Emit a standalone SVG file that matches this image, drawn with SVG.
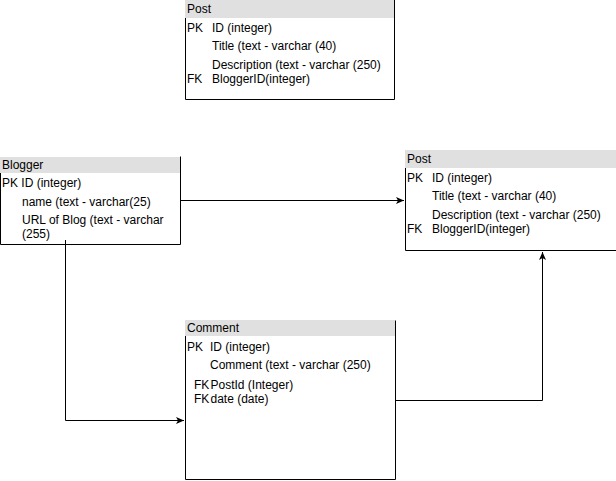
<svg xmlns="http://www.w3.org/2000/svg" width="616" height="481" viewBox="0 0 616 481">
<style>
text{font-family:"Liberation Sans",Arial,sans-serif;font-size:12px;fill:#000}
.hdr{fill:#e0e0e0;stroke:none}
.bd{fill:none;stroke:#000;stroke-width:1}
.cn{fill:none;stroke:#000;stroke-width:1}
</style>
<defs>
<marker id="arr" markerWidth="10" markerHeight="10" refX="8" refY="4" orient="auto" markerUnits="userSpaceOnUse">
<path d="M0,0.5 L8,4 L0,7.5 L2,4 z" fill="#000"/>
</marker>
</defs>
<rect width="616" height="481" fill="#fff"/>
<g id="post-top">
<rect class="hdr" x="185" y="0" width="209" height="18"/>
<path class="bd" d="M185.5,18 V99.5 H394.5 V0"/>
<text x="187" y="13">Post</text>
<text x="187" y="31.5">PK</text><text x="212" y="31.5">ID (integer)</text>
<text x="212" y="50">Title (text - varchar (40)</text>
<text x="212" y="68.5">Description (text - varchar (250)</text>
<text x="187" y="83">FK</text><text x="212" y="83">BloggerID(integer)</text>
</g>
<g id="blogger">
<rect class="hdr" x="0" y="157" width="180" height="16"/>
<path class="bd" d="M0.5,173 V244.5 H180.5 V156.5"/>
<text x="2" y="168.5">Blogger</text>
<text x="2" y="187">PK ID (integer)</text>
<text x="22" y="205.5">name (text - varchar(25)</text>
<text x="22" y="224">URL of Blog (text - varchar</text>
<text x="22" y="238">(255)</text>
</g>
<g id="post-right">
<rect class="hdr" x="405" y="150" width="211" height="18"/>
<path class="bd" d="M405.5,168 V250.5 H616"/>
<text x="407" y="163">Post</text>
<text x="407" y="181.5">PK</text><text x="432" y="181.5">ID (integer)</text>
<text x="432" y="200">Title (text - varchar (40)</text>
<text x="432" y="218.5">Description (text - varchar (250)</text>
<text x="407" y="233">FK</text><text x="432" y="233">BloggerID(integer)</text>
</g>
<g id="comment">
<rect class="hdr" x="185" y="320" width="210" height="16"/>
<path class="bd" d="M185.5,336 V479.5 H395.5 V320.5"/>
<text x="187" y="332">Comment</text>
<text x="187" y="350.5">PK</text><text x="210" y="350.5">ID (integer)</text>
<text x="210" y="369">Comment (text - varchar (250)</text>
<text x="194" y="388.5">FK</text><text x="210.5" y="388.5">PostId (Integer)</text>
<text x="194" y="403">FK</text><text x="210.5" y="403">date (date)</text>
</g>
<g id="connectors">
<path class="cn" d="M180.5,200.5 H404" marker-end="url(#arr)"/>
<path class="cn" d="M65.5,240 V420.5 H184" marker-end="url(#arr)"/>
<path class="cn" d="M395.5,400.5 H542.5 V252" marker-end="url(#arr)"/>
</g>
</svg>
